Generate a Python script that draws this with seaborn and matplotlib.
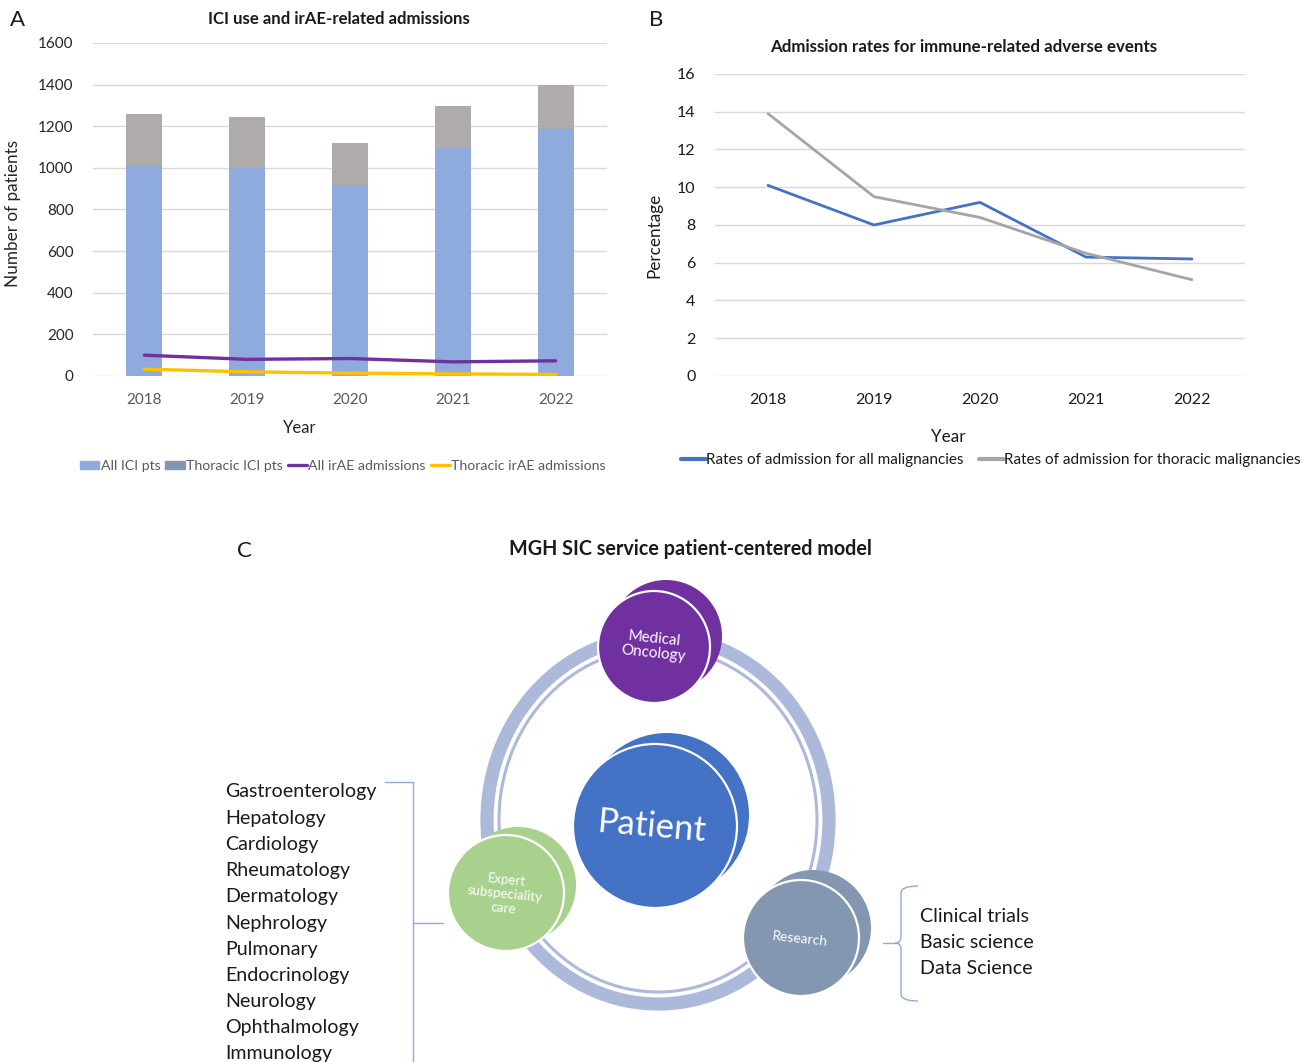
import numpy as np
import pandas as pd
import matplotlib
matplotlib.use("Agg")
import matplotlib.pyplot as plt
import seaborn as sns
from matplotlib.patches import Circle, Ellipse, Patch, PathPatch
from matplotlib.lines import Line2D
from matplotlib.path import Path

# ---------------- data ----------------
years = [2018, 2019, 2020, 2021, 2022]
all_ici_pts = [1015, 1000, 920, 1097, 1188]
thoracic_ici_pts = [245, 243, 200, 201, 212]
all_irae_adm = [100, 80, 84, 68, 73]
thoracic_irae_adm = [33, 20, 14, 10, 8]

rate_all = [10.1, 8.0, 9.2, 6.3, 6.2]
rate_thoracic = [13.9, 9.5, 8.4, 6.5, 5.1]

legend_a = ["All ICI pts", "Thoracic ICI pts", "All irAE admissions", "Thoracic irAE admissions"]
legend_b = ["Rates of admission for all malignancies", "Rates of admission for thoracic malignancies"]

specialties = ["Gastroenterology", "Hepatology", "Cardiology", "Rheumatology", "Dermatology",
               "Nephrology", "Pulmonary", "Endocrinology", "Neurology", "Ophthalmology", "Immunology"]
research_items = ["Clinical trials", "Basic science", "Data Science"]
node_labels = ["Medical\nOncology", "Patient", "Expert\nsubspeciality\ncare", "Research"]

# ---------------- style ----------------
sns.set_theme(style="white")
plt.rcParams["font.family"] = ["Lato", "DejaVu Sans"]

C_BLUE_BAR = "#8FAADC"
C_GRAY_BAR = "#AFABAB"
C_THOR_LEG = "#8497B0"
C_PURPLE = "#7030A0"
C_YELLOW = "#FFC000"
C_LINE_BLUE = "#4472C4"
C_LINE_GRAY = "#A5A5A5"
C_GRID = "#D9D9D9"

W, H = 1311, 1062
fig = plt.figure(figsize=(W / 100, H / 100), dpi=100)

def frac(x0, y0, x1, y1):
    return [x0 / W, 1 - y1 / H, (x1 - x0) / W, (y1 - y0) / H]

# ---------------- panel C / annotation canvas ----------------
axc = fig.add_axes([0, 0, 1, 1], zorder=0)
axc.set_xlim(0, W)
axc.set_ylim(H, 0)
axc.axis("off")

# ---------------- panel A ----------------
ax_a = fig.add_axes(frac(93, 43, 607, 376), zorder=2)
ax_a.patch.set_alpha(0)
stack_top = np.add(all_ici_pts, thoracic_ici_pts)
sns.barplot(x=years, y=stack_top, native_scale=True, width=0.35, color=C_GRAY_BAR,
            saturation=1, ax=ax_a, edgecolor="none", zorder=2)
sns.barplot(x=years, y=all_ici_pts, native_scale=True, width=0.35, color=C_BLUE_BAR,
            saturation=1, ax=ax_a, edgecolor="none", zorder=2)
sns.lineplot(x=years, y=all_irae_adm, color=C_PURPLE, lw=2.4, ax=ax_a, zorder=3)
sns.lineplot(x=years, y=thoracic_irae_adm, color=C_YELLOW, lw=2.4, ax=ax_a, zorder=3)
ax_a.set_xlim(2017.5, 2022.5)
ax_a.set_ylim(0, 1600)
ax_a.set_yticks(range(0, 1601, 200))
ax_a.set_xticks(years)
ax_a.set_xticklabels([str(y) for y in years], color="#595959", fontsize=11)
ax_a.set_yticklabels([str(v) for v in range(0, 1601, 200)], color="#262626", fontsize=11)
ax_a.tick_params(axis="both", length=0)
ax_a.tick_params(axis="x", pad=12)
ax_a.tick_params(axis="y", pad=14)
ax_a.yaxis.grid(True, color=C_GRID, lw=1)
ax_a.set_axisbelow(True)
for s in ax_a.spines.values():
    s.set_visible(False)
ax_a.set_xlabel("Year", fontsize=12, color="#262626")
ax_a.set_ylabel("Number of patients", fontsize=12.3, color="#262626")
ax_a.xaxis.label.set_va("center")
ax_a.yaxis.label.set_va("center")
ax_a.xaxis.set_label_coords((300 - 93) / 514, (376 - 428) / 333)
ax_a.yaxis.set_label_coords((13 - 93) / 514, (376 - 214) / 333)

handles_a = [Patch(color=C_BLUE_BAR), Patch(color=C_THOR_LEG),
             Line2D([], [], color=C_PURPLE, lw=2.4), Line2D([], [], color=C_YELLOW, lw=2.4)]
leg_a = fig.legend(handles_a, legend_a, loc="center", bbox_to_anchor=(343 / W, 1 - 466 / H),
                   ncol=4, frameon=False, fontsize=10.2, handlelength=1.35, handleheight=0.55,
                   handletextpad=0.1, columnspacing=0.35)
for t in leg_a.get_texts():
    t.set_color("#595959")

# ---------------- panel B ----------------
ax_b = fig.add_axes(frac(715, 74, 1245, 376), zorder=2)
ax_b.patch.set_alpha(0)
sns.lineplot(x=years, y=rate_all, color=C_LINE_BLUE, lw=2, ax=ax_b)
sns.lineplot(x=years, y=rate_thoracic, color=C_LINE_GRAY, lw=2, ax=ax_b)
ax_b.set_xlim(2017.5, 2022.5)
ax_b.set_ylim(0, 16)
ax_b.set_yticks(range(0, 17, 2))
ax_b.set_xticks(years)
ax_b.set_xticklabels([str(y) for y in years], color="#1a1a1a", fontsize=11.5)
ax_b.set_yticklabels([str(v) for v in range(0, 17, 2)], color="#1a1a1a", fontsize=11.5)
ax_b.tick_params(axis="both", length=0)
ax_b.tick_params(axis="x", pad=12)
ax_b.tick_params(axis="y", pad=14)
ax_b.yaxis.grid(True, color=C_GRID, lw=1)
ax_b.set_axisbelow(True)
for s in ax_b.spines.values():
    s.set_visible(False)
ax_b.set_xlabel("Year", fontsize=12.3, color="#1a1a1a")
ax_b.set_ylabel("Percentage", fontsize=12.3, color="#1a1a1a")
ax_b.xaxis.label.set_va("center")
ax_b.yaxis.label.set_va("center")
ax_b.xaxis.set_label_coords((948 - 715) / 530, (376 - 437) / 302)
ax_b.yaxis.set_label_coords((654 - 715) / 530, (376 - 235) / 302)

handles_b = [Line2D([], [], color=C_LINE_BLUE, lw=3), Line2D([], [], color=C_LINE_GRAY, lw=3)]
leg_b = fig.legend(handles_b, legend_b, loc="center", bbox_to_anchor=(991 / W, 1 - 460 / H),
                   ncol=2, frameon=False, fontsize=11, handlelength=1.6,
                   handletextpad=0.05, columnspacing=1.0)
for t in leg_b.get_texts():
    t.set_color("#1a1a1a")

# ---------------- titles & panel letters ----------------
axc.text(339, 19, "ICI use and irAE-related admissions", ha="center", va="center",
         fontsize=12.1, fontweight="bold", color="#1a1a1a")
axc.text(964, 47, "Admission rates for immune-related adverse events", ha="center", va="center",
         fontsize=12.2, fontweight="bold", color="#1a1a1a")
axc.text(690, 549, "MGH SIC service patient-centered model", ha="center", va="center",
         fontsize=14.2, fontweight="bold", color="#1a1a1a")
axc.text(18, 20, "A", ha="center", va="center", fontsize=16, color="#1a1a1a")
axc.text(656, 20, "B", ha="center", va="center", fontsize=16, color="#1a1a1a")
axc.text(244, 551, "C", ha="center", va="center", fontsize=16, color="#1a1a1a")

# ---------------- panel C diagram ----------------
RING = "#ADB9DB"
axc.add_patch(Ellipse((658, 820), 342, 368, fill=False, lw=9.5, ec=RING, zorder=1))
axc.add_patch(Ellipse((658, 820), 318, 344, fill=False, lw=2.2, ec=RING, zorder=1))

nodes = [
    # back center, front center, radius, color
    ((666, 636), (654, 647), 56, "#7030A0"),
    ((667, 815), (655, 826), 82, "#4472C4"),
    ((518, 885), (506, 893), 58, "#A9D18E"),
    ((813, 928), (801, 938), 58, "#8497B0"),
]
for (bc, fc, r, col) in nodes:
    axc.add_patch(Circle(bc, r, color=col, ec="none", zorder=2))
    axc.add_patch(Circle(fc, r, fc=col, ec="white", lw=1.6, zorder=3))

axc.text(654, 646, node_labels[0], ha="center", va="center", fontsize=11, color="white",
         rotation=-6, linespacing=1.05, zorder=4)
axc.text(652, 827, node_labels[1], ha="center", va="center", fontsize=25, color="white",
         rotation=-5, zorder=4)
axc.text(505, 894, node_labels[2], ha="center", va="center", fontsize=9.6, color="white",
         rotation=-6, linespacing=1.25, zorder=4)
axc.text(800, 939, node_labels[3], ha="center", va="center", fontsize=10, color="white",
         rotation=-6, zorder=4)

# left list
for i, name in enumerate(specialties):
    axc.text(225, 792 + i * 26.2, name, ha="left", va="center", fontsize=14.1, color="#1a1a1a")
BR = "#8FAADC"
axc.plot([385, 413], [782, 782], color=BR, lw=1)
axc.plot([413, 413], [782, 1062], color=BR, lw=1)
axc.plot([413, 443], [923, 923], color=BR, lw=1)

# right list with curly brace
for i, name in enumerate(research_items):
    axc.text(920, 916 + i * 26.2, name, ha="left", va="center", fontsize=14.1, color="#1a1a1a")
verts = [(918, 886), (901, 886), (901, 893), (901, 937), (901, 943), (895, 943),
         (901, 943), (901, 949), (901, 994), (901, 1001), (918, 1001)]
codes = [Path.MOVETO, Path.CURVE3, Path.CURVE3, Path.LINETO, Path.CURVE3, Path.CURVE3,
         Path.CURVE3, Path.CURVE3, Path.LINETO, Path.CURVE3, Path.CURVE3]
axc.add_patch(PathPatch(Path(verts, codes), fill=False, ec=BR, lw=1))
axc.plot([883, 897], [943, 943], color=BR, lw=1)

fig.savefig("out.png", dpi=100)
